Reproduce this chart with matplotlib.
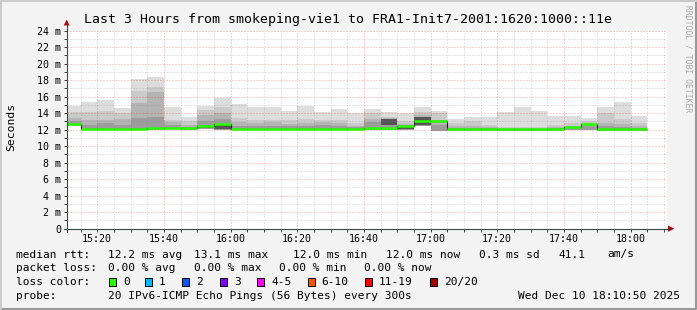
import matplotlib
matplotlib.use("Agg")
import matplotlib.pyplot as plt
from matplotlib.patches import Rectangle, Polygon
from matplotlib.lines import Line2D
from matplotlib.ticker import FixedLocator, FixedFormatter

plt.rcParams['font.family'] = ['DejaVu Sans Mono', 'DejaVu Sans']

W, H = 697, 310  # pixels

# time axis in minutes after midnight (15:10:50 .. 18:10:50)
t_start = 15 * 60 + 10 + 50 / 60
t_end = 18 * 60 + 10 + 50 / 60
bin_ends = list(range(915, 1086, 5))          # 15:15 .. 18:05, 5 min steps
edges = [t_start] + bin_ends                  # 35 bins

# median rtt per bin (ms)
median = [12.7, 12.03, 12.03, 12.03, 12.03, 12.2, 12.25, 12.15, 12.5, 12.75,
          12.03, 12.03, 12.03, 12.03, 12.03, 12.03, 12.03, 12.03, 12.15, 12.2,
          12.5, 13.1, 13.1, 12.03, 12.03, 12.03, 12.03, 12.03, 12.03, 12.03,
          12.35, 12.65, 12.03, 12.03, 12.03]
# smoke: max ping, then inner quantile tops, and min ping (ms)
smoke_max = [14.9, 15.3, 15.6, 14.6, 18.1, 18.4, 14.8, 13.6, 14.9, 15.9,
             15.1, 14.8, 14.8, 14.3, 14.9, 14.1, 14.5, 14.0, 14.5, 14.1,
             14.0, 14.8, 14.3, 13.3, 13.6, 13.6, 14.1, 14.7, 14.3, 13.7,
             13.65, 13.4, 14.7, 15.4, 13.7]
smoke_q2 = [14.1, 14.2, 14.3, 14.0, 16.7, 17.2, 13.2, 13.0, 14.4, 14.8,
            13.4, 13.2, 13.2, 13.2, 13.25, 13.2, 13.2, 12.8, 14.0, 13.6,
            13.0, 14.2, 14.0, 12.8, 13.0, 12.6, 12.3, 12.3, 12.3, 12.6,
            12.8, 13.0, 14.0, 13.3, 12.8]
smoke_q3 = [13.4, 13.2, 13.2, 13.3, 15.2, 16.6, 12.9, 12.6, 13.8, 14.0,
            12.9, 12.8, 12.9, 12.7, 12.8, 12.9, 12.8, 12.5, 13.25, 13.4,
            12.7, 13.8, 13.2, 12.4, 12.5, 12.3, 12.2, 12.2, 12.2, 12.3,
            12.5, 12.8, 12.8, 12.7, 12.4]
smoke_q4 = [13.0, 12.6, 12.8, 12.6, 13.4, 13.6, 12.6, 12.3, 13.0, 13.3,
            12.5, 12.4, 12.5, 12.4, 12.4, 12.6, 12.5, 12.3, 12.95, 12.9,
            12.6, 13.5, 12.6, 12.2, 12.2, 12.15, 12.1, 12.1, 12.1, 12.15,
            12.3, 12.5, 12.4, 12.3, 12.2]
smoke_min = [12.4, 11.95, 11.95, 11.95, 11.95, 12.0, 12.05, 11.95, 12.05, 11.98,
             11.95, 11.95, 11.95, 11.95, 11.95, 11.95, 11.95, 11.95, 11.98, 11.98,
             11.98, 12.5, 11.9, 11.9, 11.9, 11.9, 11.9, 11.9, 11.9, 11.9,
             11.98, 11.98, 11.9, 11.9, 11.9]
# darkest inner smoke (only where visible)
dark_bins = [8, 9, 19, 20, 21]
dark_lo = [12.15, 12.05, 12.6, 12.1, 12.6]
dark_hi = [12.5, 12.7, 13.3, 12.45, 13.6]

smoke_colors = ['#dddddd', '#cacaca', '#b4b4b4', '#9c9c9c']

x_major = [920, 940, 960, 980, 1000, 1020, 1040, 1060, 1080]
x_labels = ['15:20', '15:40', '16:00', '16:20', '16:40', '17:00', '17:20', '17:40', '18:00']
y_major = list(range(0, 25, 2))
y_labels = ['0'] + ['%d m' % v for v in y_major[1:]]

title = 'Last 3 Hours from smokeping-vie1 to FRA1-Init7-2001:1620:1000::11e'

rtt_row = [('median rtt:', 16), ('12.2 ms avg', 107.6), ('13.1 ms max', 194),
           ('12.0 ms min', 293), ('12.0 ms now', 386), ('0.3 ms sd', 479),
           ('41.1', 558), ('am/s', 607.5)]
loss_row = [('packet loss:', 16), ('0.00 % avg', 107.6), ('0.00 % max', 194),
            ('0.00 % min', 279), ('0.00 % now', 364)]
loss_names = ['0', '1', '2', '3', '4-5', '6-10', '11-19', '20/20']
loss_colors = ['#26ff00', '#00b8ff', '#0059ff', '#7e00ff', '#ff00ff',
               '#ff5500', '#ff0000', '#a10000']
loss_box_x = [109, 145, 182, 220, 257, 307.5, 365, 430]

fig = plt.figure(figsize=(W / 100, H / 100), dpi=100)
fig.patch.set_facecolor('#f3f3f3')

# plot area: x 66.7..666.7, y 30.7..228.7 pixels
ax = fig.add_axes([66.7 / W, (H - 228.7) / H, 600 / W, 198 / H])
ax.set_facecolor('white')
ax.set_xlim(t_start, t_end)
ax.set_ylim(0, 24)

bands = [smoke_max, smoke_q2, smoke_q3, smoke_q4]
for vals, col in zip(bands, smoke_colors):
    ax.stairs(vals, edges, baseline=smoke_min, fill=True, color=col, lw=0, zorder=1)
for b, lo, hi in zip(dark_bins, dark_lo, dark_hi):
    ax.bar(edges[b], hi - lo, width=edges[b + 1] - edges[b], bottom=lo,
           align='edge', color='#555555', lw=0, zorder=1.2)

# median: dark step line + green segments (loss 0)
ax.stairs(median, edges, baseline=None, color='#202020', lw=0.8, zorder=4)
ax.hlines(median, edges[:-1], edges[1:], color='#26ff00', lw=1.8, zorder=5)

# grid
ax.xaxis.set_major_locator(FixedLocator(x_major))
ax.xaxis.set_major_formatter(FixedFormatter(x_labels))
ax.xaxis.set_minor_locator(FixedLocator([m for m in range(915, 1091, 5) if m not in x_major]))
ax.yaxis.set_major_locator(FixedLocator(y_major))
ax.yaxis.set_major_formatter(FixedFormatter(y_labels))
ax.yaxis.set_minor_locator(FixedLocator(list(range(1, 24, 2))))
ax.grid(which='minor', color='#8c8c8c', alpha=0.42, ls=(0, (1, 2)), lw=0.72, zorder=3)
ax.grid(which='major', color='#d91a1a', alpha=0.4, ls=(0, (1, 2)), lw=0.72, zorder=3)
ax.set_axisbelow(False)
ax.tick_params(which='both', direction='out', length=2.5, width=0.7, color='#3a4a45',
               labelsize=7.2, pad=1.5)
for s in ax.spines.values():
    s.set_visible(False)

# overlay in pixel coordinates for frame, axes lines, arrows and text
ov = fig.add_axes([0, 0, 1, 1], zorder=10)
ov.set_xlim(0, W)
ov.set_ylim(H, 0)
ov.axis('off')
ov.patch.set_alpha(0)

ov.add_line(Line2D([0.5, W - 1, W - 1], [H - 1, H - 1, 0.5], color='#999999', lw=1.5))
ov.add_line(Line2D([0.5, 0.5, W - 1], [H - 1, 0.5, 0.5], color='#cbcbcb', lw=1.5))

axis_col = '#3a4a45'
ov.add_line(Line2D([66.7, 66.7], [231.5, 25], color=axis_col, lw=0.8))
ov.add_line(Line2D([63.5, 669], [228.7, 228.7], color=axis_col, lw=0.8))
ov.add_patch(Polygon([[63.7, 25.5], [69.7, 25.5], [66.7, 19.5]], closed=True, color='#a01010', lw=0))
ov.add_patch(Polygon([[668, 225.6], [668, 231.8], [674.5, 228.7]], closed=True, color='#a01010', lw=0))

ov.text(W / 2 - 1, 19, title, ha='center', va='center', fontsize=9.5)
ov.text(11, 127, 'Seconds', ha='center', va='center', rotation=90, fontsize=8.2)
ov.text(688, 59, 'RRDTOOL / TOBI OETIKER', ha='center', va='center', rotation=270,
        fontsize=5.8, color='#a8a8a8')

fs = 8.0
for s, x in rtt_row:
    ov.text(x, 254.5, s, ha='left', va='center', fontsize=fs)
for s, x in loss_row:
    ov.text(x, 268.3, s, ha='left', va='center', fontsize=fs)
ov.text(16, 282.3, 'loss color:', ha='left', va='center', fontsize=fs)
for name, col, x in zip(loss_names, loss_colors, loss_box_x):
    ov.add_patch(Rectangle((x, 278.3), 7, 8, facecolor=col, edgecolor='black', lw=0.7))
    ov.text(x + 14, 282.3, name, ha='left', va='center', fontsize=fs)
ov.text(16, 296, 'probe:', ha='left', va='center', fontsize=fs)
ov.text(107.6, 296, '20 IPv6-ICMP Echo Pings (56 Bytes) every 300s', ha='left', va='center', fontsize=fs)
ov.text(680, 296, 'Wed Dec 10 18:10:50 2025', ha='right', va='center', fontsize=fs)

fig.savefig('out.png', dpi=100, facecolor=fig.get_facecolor())
